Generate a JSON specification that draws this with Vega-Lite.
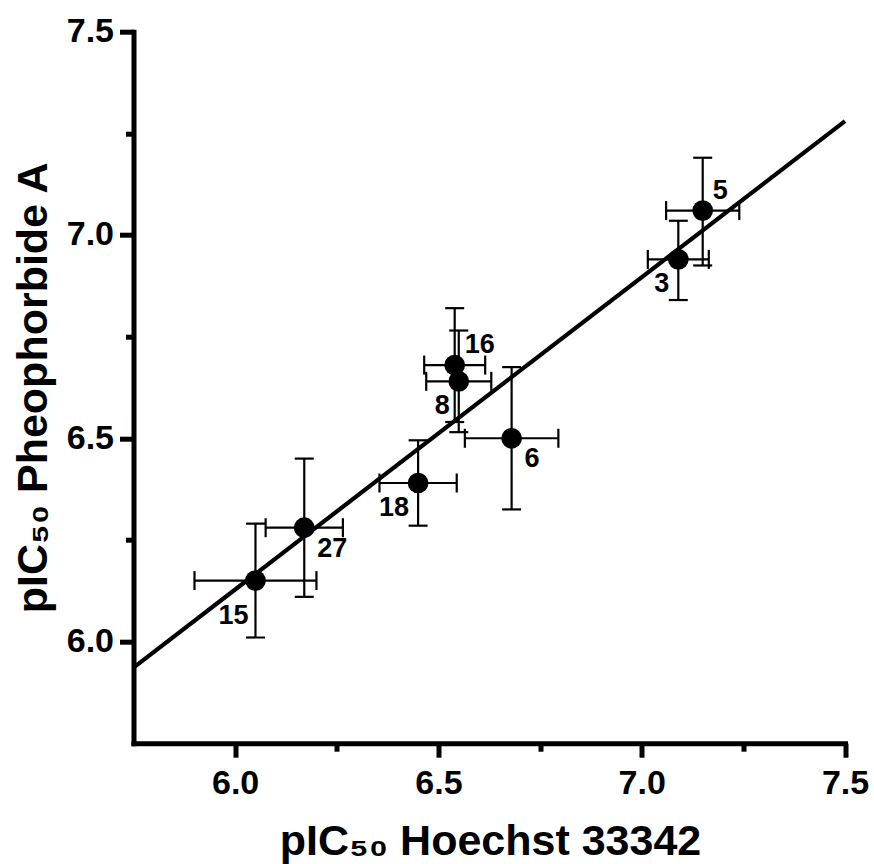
{
  "$schema": "https://vega.github.io/schema/vega-lite/v6.json",
  "width": 711.5,
  "height": 711.5,
  "autosize": {"type": "none"},
  "padding": {"left": 133.5, "top": 31.7, "right": 29, "bottom": 120.8},
  "background": "white",
  "config": {
    "view": {"stroke": null},
    "font": "Liberation Sans",
    "axis": {
      "grid": false,
      "domainColor": "black",
      "domainWidth": 5,
      "domainCap": "square",
      "tickColor": "black",
      "tickWidth": 5,
      "labelColor": "black",
      "labelFont": "Liberation Sans",
      "labelFontSize": 34,
      "labelFontWeight": "bold",
      "labelOverlap": false,
      "labelFlush": false,
      "titleColor": "black",
      "titleFont": "Liberation Sans",
      "titleFontSize": 43,
      "titleFontWeight": "bold"
    }
  },
  "datasets": {
    "pts": [
      {"id": "15", "x": 6.05, "y": 6.15, "x_lo": 5.90, "x_hi": 6.20, "y_lo": 6.01, "y_hi": 6.29},
      {"id": "27", "x": 6.17, "y": 6.28, "x_lo": 6.075, "x_hi": 6.265, "y_lo": 6.11, "y_hi": 6.45},
      {"id": "18", "x": 6.45, "y": 6.39, "x_lo": 6.355, "x_hi": 6.545, "y_lo": 6.285, "y_hi": 6.495},
      {"id": "16", "x": 6.54, "y": 6.68, "x_lo": 6.465, "x_hi": 6.615, "y_lo": 6.54, "y_hi": 6.82},
      {"id": "8", "x": 6.55, "y": 6.64, "x_lo": 6.47, "x_hi": 6.63, "y_lo": 6.515, "y_hi": 6.765},
      {"id": "6", "x": 6.68, "y": 6.50, "x_lo": 6.565, "x_hi": 6.795, "y_lo": 6.325, "y_hi": 6.675},
      {"id": "3", "x": 7.09, "y": 6.94, "x_lo": 7.015, "x_hi": 7.165, "y_lo": 6.84, "y_hi": 7.035},
      {"id": "5", "x": 7.15, "y": 7.06, "x_lo": 7.06, "x_hi": 7.24, "y_lo": 6.925, "y_hi": 7.19}
    ],
    "fit": [
      {"x": 5.75, "y": 5.936},
      {"x": 7.5, "y": 7.28}
    ]
  },
  "layer": [
    {
      "data": {"name": "pts"},
      "mark": {"type": "rule", "color": "black", "strokeWidth": 2.2},
      "encoding": {
        "x": {
          "field": "x_lo", "type": "quantitative",
          "scale": {"domain": [5.75, 7.5], "nice": false, "zero": false},
          "axis": {
            "title": "pIC₅₀ Hoechst 33342",
            "values": [6, 6.25, 6.5, 6.75, 7, 7.25, 7.5],
            "labelExpr": "datum.value % 0.5 === 0 ? format(datum.value, '.1f') : ''",
            "tickSize": {"condition": {"test": "datum.value % 0.5 === 0", "value": 14}, "value": 8},
            "labelPadding": 9,
            "titleX": 356.5,
            "titleY": 111,
            "titleBaseline": "alphabetic",
            "titleAlign": "center"
          }
        },
        "x2": {"field": "x_hi"},
        "y": {
          "field": "y", "type": "quantitative",
          "scale": {"domain": [5.75, 7.5], "nice": false, "zero": false},
          "axis": {
            "title": "pIC₅₀ Pheophorbide A",
            "values": [6, 6.25, 6.5, 6.75, 7, 7.25, 7.5],
            "labelExpr": "datum.value % 0.5 === 0 ? format(datum.value, '.1f') : ''",
            "tickSize": {"condition": {"test": "datum.value % 0.5 === 0", "value": 14}, "value": 8},
            "labelPadding": 6,
            "titleX": -87,
            "titleY": 355.75,
            "titleAngle": 270,
            "titleBaseline": "alphabetic",
            "titleAlign": "center"
          }
        }
      }
    },
    {
      "data": {"name": "pts"},
      "mark": {"type": "rule", "color": "black", "strokeWidth": 2.2},
      "encoding": {
        "x": {"field": "x", "type": "quantitative"},
        "y": {"field": "y_lo", "type": "quantitative"},
        "y2": {"field": "y_hi"}
      }
    },
    {
      "data": {"name": "pts"},
      "mark": {"type": "tick", "orient": "vertical", "color": "black", "opacity": 1, "size": 19, "thickness": 2.2},
      "encoding": {
        "x": {"field": "x_lo", "type": "quantitative"},
        "y": {"field": "y", "type": "quantitative"}
      }
    },
    {
      "data": {"name": "pts"},
      "mark": {"type": "tick", "orient": "vertical", "color": "black", "opacity": 1, "size": 19, "thickness": 2.2},
      "encoding": {
        "x": {"field": "x_hi", "type": "quantitative"},
        "y": {"field": "y", "type": "quantitative"}
      }
    },
    {
      "data": {"name": "pts"},
      "mark": {"type": "tick", "orient": "horizontal", "color": "black", "opacity": 1, "size": 19, "thickness": 2.2},
      "encoding": {
        "x": {"field": "x", "type": "quantitative"},
        "y": {"field": "y_lo", "type": "quantitative"}
      }
    },
    {
      "data": {"name": "pts"},
      "mark": {"type": "tick", "orient": "horizontal", "color": "black", "opacity": 1, "size": 19, "thickness": 2.2},
      "encoding": {
        "x": {"field": "x", "type": "quantitative"},
        "y": {"field": "y_hi", "type": "quantitative"}
      }
    },
    {
      "data": {"name": "fit"},
      "mark": {"type": "line", "color": "black", "strokeWidth": 4.2, "clip": false},
      "encoding": {
        "x": {"field": "x", "type": "quantitative"},
        "y": {"field": "y", "type": "quantitative"}
      }
    },
    {
      "data": {"name": "pts"},
      "mark": {"type": "point", "shape": "circle", "filled": true, "color": "black", "opacity": 1, "size": 430},
      "encoding": {
        "x": {"field": "x", "type": "quantitative"},
        "y": {"field": "y", "type": "quantitative"}
      }
    },
    {
      "data": {"name": "pts"},
      "transform": [{"filter": "indexof(['16','5'], datum.id) >= 0"}],
      "mark": {"type": "text", "color": "black", "font": "Liberation Sans", "fontWeight": "bold", "fontSize": 27, "align": "left", "baseline": "middle", "dx": 10, "dy": -20},
      "encoding": {
        "x": {"field": "x", "type": "quantitative"},
        "y": {"field": "y", "type": "quantitative"},
        "text": {"field": "id"}
      }
    },
    {
      "data": {"name": "pts"},
      "transform": [{"filter": "indexof(['6','27'], datum.id) >= 0"}],
      "mark": {"type": "text", "color": "black", "font": "Liberation Sans", "fontWeight": "bold", "fontSize": 27, "align": "left", "baseline": "middle", "dx": 13, "dy": 21},
      "encoding": {
        "x": {"field": "x", "type": "quantitative"},
        "y": {"field": "y", "type": "quantitative"},
        "text": {"field": "id"}
      }
    },
    {
      "data": {"name": "pts"},
      "transform": [{"filter": "indexof(['8','18','3'], datum.id) >= 0"}],
      "mark": {"type": "text", "color": "black", "font": "Liberation Sans", "fontWeight": "bold", "fontSize": 27, "align": "right", "baseline": "middle", "dx": -9, "dy": 25},
      "encoding": {
        "x": {"field": "x", "type": "quantitative"},
        "y": {"field": "y", "type": "quantitative"},
        "text": {"field": "id"}
      }
    },
    {
      "data": {"name": "pts"},
      "transform": [{"filter": "datum.id === '15'"}],
      "mark": {"type": "text", "color": "black", "font": "Liberation Sans", "fontWeight": "bold", "fontSize": 27, "align": "right", "baseline": "middle", "dx": -7, "dy": 35},
      "encoding": {
        "x": {"field": "x", "type": "quantitative"},
        "y": {"field": "y", "type": "quantitative"},
        "text": {"field": "id"}
      }
    }
  ]
}
